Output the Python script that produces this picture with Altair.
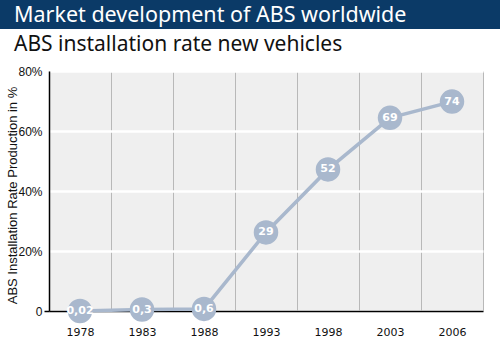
import altair as alt
import pandas as pd

years = ["1978", "1983", "1988", "1993", "1998", "2003", "2006"]
rates = [0.0, 0.5, 0.7, 26.2, 47.2, 64.4, 69.8]
labels = ["0,02", "0,3", "0,6", "29", "52", "69", "74"]

df = pd.DataFrame({"year": years, "rate": rates, "label": labels})

W, H = 434, 240
PL, PT, PR, PB = 49, 71, 17, 40

x = alt.X("year:N", sort=years, title=None,
          scale=alt.Scale(paddingInner=0, paddingOuter=0),
          axis=alt.Axis(labelAngle=0, labelFont="DejaVu Sans", labelFontSize=11,
                        labelColor="#111", labelPadding=15, ticks=False,
                        domainColor="#000", domainWidth=1.5,
                        grid=True, gridColor="#b8b8b8", gridWidth=1, tickBand="extent"))
y = alt.Y("rate:Q", title="ABS Installation Rate Production in %",
          scale=alt.Scale(domain=[0, 80], nice=False, clamp=False),
          axis=alt.Axis(values=[0, 20, 40, 60, 80],
                        labelExpr="datum.value == 0 ? '0' : datum.value + '%'",
                        labelFont="Liberation Sans", labelFontSize=12, labelColor="#111",
                        ticks=True, tickSize=5, tickColor="#000", tickWidth=1.5,
                        tickOpacity={"condition": {"test": "datum.value == 0", "value": 1}, "value": 0},
                        labelPadding=2,
                        domainColor="#000", domainWidth=1.5,
                        grid=True, gridColor="#ffffff", gridWidth=2.5,
                        titleFont="Liberation Sans", titleFontSize=13, titleFontWeight="normal",
                        titleColor="#111", titleX=-37, titleY=H / 2 + 4, titleAngle=270,
                        titleAlign="center", titleBaseline="middle"))

base = alt.Chart(df)

line = base.mark_line(color="#a9b8cd", strokeWidth=3.5, clip=False).encode(x=x, y=y)
pts = base.mark_circle(color="#a9b8cd", opacity=1, size=600, clip=False).encode(x=x, y=y)
txt = base.mark_text(color="#ffffff", font="DejaVu Sans", fontSize=11, fontWeight="bold",
                     clip=False).encode(x=x, y=y, text="label:N")

one = pd.DataFrame({"t": ["Market development of ABS worldwide"],
                    "s": ["ABS installation rate new vehicles"]})
banner = alt.Chart(one).mark_rect(color="#0b3a67").encode(
    x=alt.value(-PL), x2=alt.value(W + PR), y=alt.value(-PT), y2=alt.value(-42))
title1 = alt.Chart(one).mark_text(color="#ffffff", font="Noto Sans", fontSize=21.5,
                                  align="left", baseline="middle").encode(
    x=alt.value(-35), y=alt.value(-55), text="t:N")
title2 = alt.Chart(one).mark_text(color="#111111", font="Noto Sans", fontSize=21,
                                  align="left", baseline="middle").encode(
    x=alt.value(-35), y=alt.value(-26), text="s:N")

chart = alt.layer(banner, title1, title2, line, pts, txt).properties(
    width=W, height=H,
    autosize=alt.AutoSizeParams(type="none"),
    padding={"left": PL, "top": PT, "right": PR, "bottom": PB},
    background="#ffffff",
).configure_view(fill="#efefef", stroke=None)

chart.save("out.html", embed_options={"renderer": "svg", "actions": False})
